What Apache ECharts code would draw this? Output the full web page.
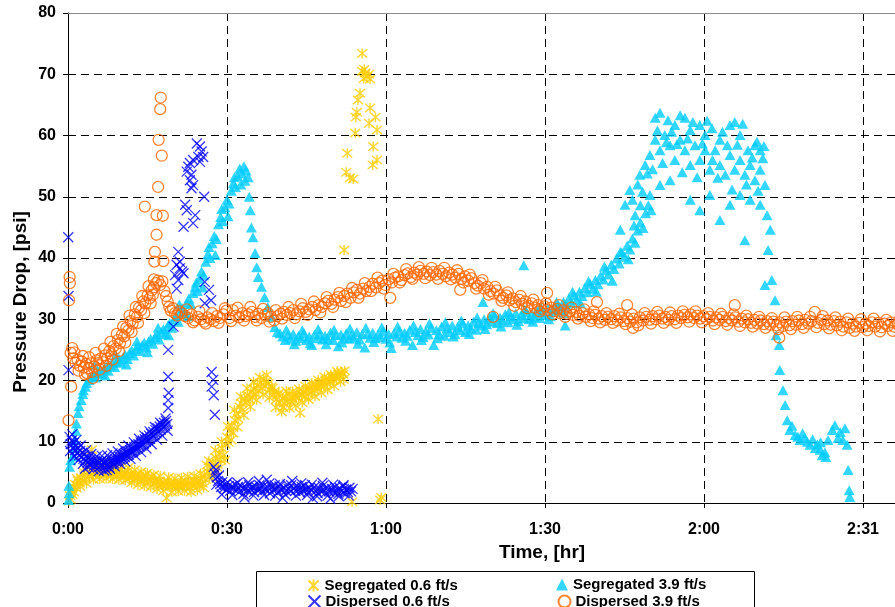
<!DOCTYPE html>
<html><head><meta charset="utf-8">
<script src="https://cdn.jsdelivr.net/npm/echarts@6/dist/echarts.min.js"></script>
<style>html,body{margin:0;padding:0;overflow:hidden;background:#fff;width:895px;height:607px}#c{width:930px;height:607px}</style>
</head><body><div id="c"></div><script>
// time in minutes, pressure drop in psi
const xTickLabels = ['0:00','0:30','1:00','1:30','2:00','2:31'];
const seriesNames = ['Segregated 0.6 ft/s','Segregated 3.9 ft/s','Dispersed 0.6 ft/s','Dispersed 3.9 ft/s'];

const seg06 = [
[0.2,0.3],[0.4,1.2],[0.6,2.0],[0.8,1.4],[1.0,2.6],[1.3,3.1],[1.6,2.4],[1.9,3.6],[2.2,3.2],[2.5,4.1],[2.8,3.6],[3.1,4.5],[3.4,3.9],[3.7,5.0],[4.0,4.3],[4.3,5.4],[4.5,8.7],[4.7,4.6],[5.0,5.6],[5.3,4.8],[5.6,5.3],[5.9,4.4],[6.2,5.8],[6.5,5.0],[6.8,4.6],[7.1,5.5],[7.4,4.9],[7.7,5.9],[8.0,4.5],[8.3,5.2],[8.6,4.8],[8.9,5.6],[9.2,4.4],[9.5,5.1],[9.8,4.7],[10.1,5.4],[10.4,4.3],[10.7,4.9],[11.0,4.5],[11.3,5.2],[11.6,4.1],[11.9,4.7],[12.2,4.3],[12.5,3.8],[12.8,4.6],[13.1,4.0],[13.4,4.4],[13.7,3.6],[14.0,4.2],[14.3,3.8],[14.6,4.5],[14.9,3.4],[15.2,4.0],[15.5,3.6],[15.8,4.3],[16.1,3.2],[16.4,3.8],[16.7,3.4],[17.0,2.9],[17.3,3.6],[17.6,3.1],[17.9,2.7],[18.2,3.4],[18.6,0.8],[18.5,2.9],[18.8,3.5],[19.1,2.6],[19.4,3.2],[19.7,2.8],[20.0,3.4],[20.3,2.5],[20.6,3.1],[20.9,2.7],[21.2,3.3],[21.5,2.6],[21.8,3.0],[22.1,3.6],[22.4,2.8],[22.7,3.2],[23.0,2.5],[23.3,3.4],[23.6,2.9],[23.9,3.7],[24.2,3.1],[24.5,3.5],[24.8,2.8],[25.1,3.9],[25.4,3.2],[25.7,4.6],[26.0,3.8],[26.2,6.2],[26.4,5.1],[26.7,4.3],[27.0,5.8],[27.3,6.6],[27.6,5.2],[27.9,7.4],[28.2,6.3],[28.5,8.1],[28.8,7.0],[29.1,8.9],[29.4,7.8],[29.7,9.6],[30.0,10.8],[30.3,9.9],[30.6,11.8],[30.9,12.6],[31.2,11.4],[31.5,13.5],[31.8,14.6],[32.1,13.8],[32.4,15.7],[32.7,16.3],[33.0,15.2],[33.3,17.0],[33.6,16.4],[33.9,17.6],[34.2,16.9],[34.5,18.1],[34.8,17.2],[35.1,18.6],[35.4,17.8],[35.7,19.2],[36.0,18.3],[36.3,19.6],[36.6,18.8],[36.9,20.2],[37.2,19.1],[37.5,20.9],[37.8,19.5],[38.1,18.4],[38.4,19.0],[38.7,17.6],[39.0,18.3],[39.3,16.9],[39.6,17.7],[39.9,16.4],[40.3,14.9],[40.5,17.1],[40.8,16.3],[41.1,17.4],[41.4,16.6],[41.7,17.8],[42.0,16.5],[42.3,17.2],[42.6,16.8],[42.9,17.5],[43.2,18.0],[43.5,17.1],[43.8,14.7],[44.1,17.6],[44.4,18.2],[44.7,17.4],[45.0,18.5],[45.3,17.8],[45.6,18.8],[45.9,18.1],[46.2,19.0],[46.5,18.4],[46.8,19.3],[47.1,18.7],[47.4,19.5],[47.7,19.0],[48.0,19.8],[48.3,19.2],[48.6,20.1],[48.9,19.5],[49.2,20.3],[49.5,19.8],[49.8,20.6],[50.1,20.0],[50.4,20.8],[50.7,20.3],[51.0,21.1],[51.3,20.6],[51.6,21.4],[51.9,21.0],[52.2,21.6],
[0.5,0.6],[1.1,1.8],[1.7,4.0],[2.3,2.7],[2.9,5.1],[3.5,3.2],[4.1,6.0],[4.8,3.8],[5.4,6.4],[6.0,3.9],[6.6,6.3],[7.2,4.0],[7.8,6.5],[8.4,3.9],[9.0,6.2],[9.6,3.8],[10.2,6.0],[10.8,3.7],[11.4,5.8],[12.0,3.3],[12.6,5.4],[13.2,3.0],[13.8,5.1],[14.4,2.8],[15.0,4.9],[15.6,2.6],[16.2,4.6],[16.8,2.3],[17.4,4.4],[18.0,2.0],[19.0,4.2],[19.6,1.8],[20.2,4.0],[20.8,1.9],[21.4,4.1],[22.0,2.0],[22.6,4.3],[23.2,1.8],[23.8,4.4],[24.4,2.1],[25.0,4.8],[25.6,2.5],[26.6,6.9],[27.2,4.1],[27.8,8.6],[28.4,5.6],[29.0,10.0],[29.6,7.0],[30.2,12.5],[30.8,10.3],[31.4,15.2],[32.0,12.4],[32.6,17.4],[33.2,14.3],[33.8,18.7],[34.4,15.7],[35.0,19.8],[35.6,16.8],[36.2,20.5],[36.8,17.7],[37.4,19.8],[38.0,17.2],[38.6,18.8],[39.2,15.6],[39.8,18.0],[40.6,15.6],[41.2,18.3],[41.8,15.5],[42.4,18.2],[43.0,15.9],[43.6,18.6],[44.2,16.4],[44.8,19.1],[45.4,16.9],[46.0,19.6],[46.6,17.4],[47.2,20.1],[47.8,18.0],[48.4,20.6],[49.0,18.5],[49.6,21.0],[50.2,19.1],[50.8,21.5],[51.4,19.8],[52.0,20.2],
[53.6,0.2],[58.9,0.5],[59.1,0.9],[58.5,13.7],[52.1,41.3],[52.5,54.0],[53.2,53.1],[53.8,52.9],[52.7,57.1],[54.2,60.4],[54.3,63.0],[54.5,63.8],[54.7,65.8],[55.1,66.9],[55.5,73.4],[55.5,70.5],[55.8,69.3],[56.1,70.2],[56.4,69.6],[56.8,70.0],[57.0,69.2],[55.9,70.8],[57.0,64.5],[58.0,63.0],[56.8,62.0],[58.3,60.9],[57.6,58.2],[58.3,56.0],[57.5,55.2]
];

const seg39 = [
[0.1,0.5],[0.2,1.6],[0.15,2.8],[0.3,5.9],[0.5,7.0],[0.9,7.6],[1.2,9.0],[1.3,10.3],[1.5,11.8],[1.6,13.0],[1.9,14.7],[2.1,15.8],[2.5,16.8],[2.8,17.8],[2.9,18.4],[3.3,19.0],[3.5,19.6],[4.0,20.1],[4.4,20.6],[4.8,21.0],[5.2,20.5],[5.6,21.2],[6.0,21.7],[6.4,21.1],[6.8,21.9],[7.2,22.3],[7.6,21.6],[8.0,22.5],[8.4,22.9],[8.8,22.2],[9.2,23.1],[9.6,23.6],[10.0,22.9],[10.4,23.8],[10.8,24.2],[11.2,23.5],[11.6,24.5],[12.0,24.9],[12.4,24.1],[12.8,25.2],[13.2,25.6],[13.6,24.8],[14.0,25.8],[14.4,26.2],[14.8,25.4],[15.2,26.4],[15.6,26.8],[16.0,26.0],[16.4,27.1],[16.8,27.5],[17.2,26.7],[17.6,27.9],[18.0,28.4],[18.4,27.6],[18.8,28.9],[19.2,29.4],[19.6,28.6],[20.0,29.9],[20.4,30.5],[20.8,29.6],[21.2,31.1],[21.6,31.8],[22.0,31.0],[22.4,32.6],[22.8,33.4],[23.2,32.5],[23.6,34.3],[24.0,35.3],[24.4,34.6],[24.8,36.6],[25.2,37.8],[25.6,37.2],[26.0,39.4],[26.4,40.6],[26.8,40.0],[27.2,42.4],[27.6,43.6],[28.0,43.1],[28.4,45.5],[28.8,46.7],[29.2,46.0],[29.6,48.3],[30.0,49.5],[30.4,48.9],[30.8,51.0],[31.2,52.2],[31.6,51.6],[32.0,53.4],[32.4,54.6],[32.8,53.8],[33.2,55.0],[33.6,54.3],[34.0,53.2],[33.4,52.6],[34.2,50.0],[34.4,47.8],[34.6,45.0],[34.9,43.4],[35.3,40.8],[35.6,38.5],[35.9,36.9],[36.5,35.3],[37.1,33.6],[37.7,32.0],[38.4,30.4],[39.0,28.7],[39.5,27.9],[40.0,27.7],
[5.0,22.5],[7.0,20.8],[9.0,24.1],[11.0,22.6],[13.0,26.4],[15.0,24.6],[17.0,28.6],[19.0,27.4],[21.0,32.4],[22.6,30.5],[24.2,36.0],[25.4,35.2],[26.6,41.8],[27.8,40.5],[29.0,48.0],[30.2,46.8],[31.4,53.2],[32.6,52.0],
[40.5,27.2],[41.0,26.6],[41.5,27.4],[42.0,26.8],[42.5,27.6],[43.0,26.5],[43.5,27.3],[44.0,26.9],[44.5,27.7],[45.0,26.6],[45.5,27.2],[46.0,25.8],[46.5,27.5],[47.0,26.9],[47.5,27.6],[48.0,26.7],[48.5,27.3],[49.0,26.8],[49.5,27.8],[50.0,26.6],[50.5,27.4],[51.0,25.6],[51.5,27.5],[52.0,26.9],[52.5,27.7],[53.0,26.8],[53.5,27.4],[54.0,27.0],[54.5,27.9],[55.0,26.7],[55.5,27.5],[56.0,25.4],[56.5,27.6],[57.0,27.0],[57.5,27.8],[58.0,26.9],[58.5,27.5],[59.0,27.1],[59.5,28.0],[60.0,26.8],[60.5,27.6],[61.0,25.3],[61.5,27.7],[62.0,27.2],[62.5,28.1],[63.0,27.0],[63.5,27.8],[64.0,27.3],[64.5,28.3],[65.0,25.8],[65.5,27.9],[66.0,27.4],[66.5,28.4],[67.0,27.1],[67.5,28.0],[68.0,27.5],[68.5,28.6],[69.0,25.8],[69.5,28.2],[70.0,27.6],[70.5,28.8],[71.0,27.3],[71.5,28.5],[72.0,27.9],[72.5,29.0],[73.0,27.6],[73.5,28.7],[74.0,28.2],[74.5,29.3],[75.0,27.9],[75.5,29.0],[76.0,28.5],[76.5,29.6],[77.0,28.3],[77.5,29.4],[78.0,29.0],[78.3,32.8],[78.5,30.0],[79.0,29.2],[79.5,30.3],[80.0,29.6],[80.5,30.6],[81.0,29.4],[81.5,30.3],[82.0,29.8],[82.5,30.8],[83.0,29.5],[83.5,30.5],[84.0,30.0],[84.5,31.0],[85.0,29.7],[85.5,30.7],[86.0,38.8],[86.0,30.2],[86.5,31.2],[87.0,30.0],[87.5,30.9],[88.0,30.4],[88.5,31.4],[89.0,30.2],[89.5,31.2],[90.0,30.7],[90.5,31.8],[91.0,30.5],[91.5,31.6],[92.0,31.2],[92.5,32.3],[93.0,31.5],[93.5,32.8],[93.8,29.0],[94.0,32.2],[94.5,33.4],[95.0,32.6],[95.5,33.9],[96.0,33.2],[96.5,34.5],[97.0,33.8],[97.5,35.1],[98.0,34.4],[98.5,35.8],[99.0,35.0],[99.5,36.4],[100.0,35.7],[100.5,37.1],[101.0,36.5],[101.5,38.0],[102.0,37.3],[102.5,38.9],[103.0,38.2],[103.5,39.9],[104.0,39.1],[104.5,40.9],[105.0,40.2],[105.5,42.0],[106.0,41.4],[106.5,43.2],[107.0,42.5],[107.5,44.5],[108.0,45.8],[108.5,44.9],[109.0,47.3],[109.5,48.6],[110.0,47.8],
[41.2,28.3],[42.7,25.9],[44.2,28.2],[45.7,26.1],[47.2,28.4],[48.7,25.9],[50.2,28.3],[51.7,26.2],[53.2,28.5],[54.7,26.0],[56.2,28.6],[57.7,26.3],[59.2,28.7],[60.7,26.2],[62.2,28.8],[63.7,26.5],[65.2,29.0],[66.7,26.6],[68.2,29.3],[69.7,26.9],[71.2,29.5],[72.7,27.2],[74.2,29.8],[75.7,27.6],[77.2,30.3],[78.7,28.4],[80.2,31.0],[81.7,28.8],[83.2,31.2],[84.7,29.1],[86.2,31.6],[87.7,29.6],[89.2,32.0],[90.7,30.0],[92.2,32.8],[93.7,31.0],[95.2,34.5],[96.7,32.6],[98.2,36.2],[99.7,34.5],[101.2,38.6],[102.7,36.3],[104.2,41.0],[105.7,39.8],
[104.2,44.6],[105.1,48.7],[106.0,51.1],[107.0,47.0],[107.9,53.6],[108.9,55.2],[109.8,50.3],[109.8,56.8],[110.8,59.3],[110.8,62.9],[111.7,63.7],[111.7,57.6],[111.7,51.9],[112.6,60.1],[113.2,62.5],[113.6,58.4],[113.6,52.7],[114.5,61.7],[114.5,56.0],[115.5,63.3],[115.5,59.3],[116.4,62.9],[116.4,57.6],[117.4,60.9],[117.4,55.2],[117.4,49.5],[118.3,58.4],[119.2,61.7],[119.2,56.0],[119.2,47.8],[120.2,60.1],[120.2,57.6],[121.1,54.4],[121.1,50.3],[121.5,61.2],[122.1,57.6],[123.0,59.3],[123.0,55.2],[123.0,46.2],[124.0,53.6],[124.9,61.7],[124.9,56.8],[124.9,48.7],[125.8,62.2],[125.8,54.4],[126.8,60.1],[126.8,56.0],[126.8,50.3],[127.7,53.6],[127.7,42.9],[128.3,57.6],[128.7,55.2],[128.7,49.5],[129.6,58.4],[129.6,52.7],[130.6,57.6],[130.6,54.4],[130.6,48.7],[131.1,56.3],[131.5,51.9],[131.9,47.0],[132.5,44.6],[132.1,41.3],[131.5,35.6],[132.8,36.4],[133.4,33.1],[133.6,27.4],[134.2,25.8],[134.3,21.7],[134.9,18.4],[135.3,16.0],[135.7,13.5],[136.2,11.9],[136.6,12.6],[137.2,11.1],[137.7,10.8],[138.1,10.3],[138.6,11.4],[139.0,10.6],[139.5,10.0],[140.0,9.5],[140.5,10.4],[141.0,9.0],[141.4,9.6],[141.9,8.7],[142.0,9.9],[142.3,7.8],[142.8,8.3],[143.0,7.5],[143.4,10.3],[144.2,11.9],[144.7,12.7],[145.3,10.6],[145.7,11.6],[146.2,10.3],[146.6,12.2],[147.0,9.5],[147.2,5.4],[147.4,2.1],[147.5,1.0],
[106.5,49.5],[107.5,52.0],[108.4,50.8],[109.3,53.8],[110.3,54.5],[111.2,60.8],[112.2,55.5],[112.9,58.9],[113.9,60.6],[114.9,58.6],[115.9,54.0],[116.9,59.5],[117.9,62.2],[118.7,53.2],[119.7,58.7],[120.6,62.4],[121.6,56.0],[122.6,53.1],[123.5,60.6],[124.4,58.4],[125.3,51.2],[126.3,58.5],[127.3,61.9],[128.0,52.0],[129.1,56.4],[130.0,59.0],[130.2,51.0],[131.3,58.3],[106.8,45.3],[108.0,48.6]
];

const disp06 = [
[0.05,43.4],[0.1,33.8],[0.1,21.7],
[0.3,10.8],[0.5,9.6],[0.7,10.2],[0.9,9.0],[1.1,9.8],[1.3,8.6],[1.5,9.3],[1.7,8.2],[1.9,8.9],[2.1,7.8],[2.3,8.5],[2.5,7.5],[2.7,8.2],[2.9,7.2],[3.1,7.9],[3.2,5.6],[3.3,6.9],[3.5,7.6],[3.7,6.6],[3.9,7.3],[4.1,6.4],[4.3,7.1],[4.5,6.3],[4.7,7.0],[4.9,6.1],[5.1,6.9],[5.3,6.2],[5.5,6.8],[5.7,5.8],[5.9,6.6],[6.1,6.0],[6.3,6.9],[6.5,6.2],[6.7,6.7],[6.9,5.9],[7.1,6.6],[7.3,5.4],[7.3,6.1],[7.5,6.8],[7.7,6.3],[7.9,5.6],[8.1,6.9],[8.3,6.4],[8.5,7.1],[8.7,6.5],[8.9,7.2],[9.1,6.7],[9.3,7.4],[9.5,6.9],[9.7,7.6],[9.9,7.1],[10.1,7.8],[10.3,7.3],[10.5,8.0],[10.7,7.5],[10.9,8.2],[11.1,7.7],[11.3,8.4],[11.5,7.9],[11.7,8.6],[11.9,8.2],[12.1,8.9],[12.3,8.4],[12.5,9.1],[12.7,8.7],[12.9,9.4],[13.1,8.9],[13.3,9.6],[13.5,9.2],[13.7,9.9],[13.9,9.4],[14.1,10.2],[14.3,9.7],[14.5,10.4],[14.7,10.0],[14.9,10.7],[15.1,10.2],[15.3,11.0],[15.5,10.5],[15.7,11.3],[15.9,10.8],[16.1,11.6],[16.3,11.1],[16.5,11.9],[16.7,11.4],[16.9,12.2],[17.1,11.7],[17.3,12.5],[17.5,12.0],[17.7,12.8],[17.9,12.3],[18.1,13.1],[18.3,12.6],[18.5,13.4],[18.7,12.9],
[0.4,8.5],[0.8,11.2],[1.2,7.6],[1.6,10.3],[2.0,7.0],[2.4,9.4],[2.8,6.4],[3.4,8.6],[3.8,5.9],[4.4,8.0],[4.8,5.5],[5.4,7.6],[5.8,5.2],[6.4,7.7],[6.8,5.3],[7.4,7.8],[7.8,5.8],[8.4,8.1],[8.8,6.0],[9.4,8.4],[9.8,6.4],[10.4,8.9],[10.8,6.8],[11.4,9.4],[11.8,7.2],[12.4,9.9],[12.8,7.7],[13.4,10.5],[13.8,8.3],[14.4,11.0],[14.8,8.9],[15.4,11.7],[15.8,9.6],[16.4,12.4],[16.8,10.3],[17.4,13.1],[17.8,11.0],[18.4,13.8],[18.8,11.8],
[18.9,15.5],[18.9,16.8],[19.0,18.0],[18.9,20.6],[18.9,25.0],[19.9,28.8],[20.2,37.2],[20.5,35.0],[20.8,36.4],[20.5,38.9],[21.1,38.3],[21.8,37.5],[20.8,41.0],[21.1,39.4],[21.5,37.8],[21.8,45.1],[22.1,48.7],[22.4,47.8],[24.0,47.0],[23.6,45.7],[24.3,58.7],[24.9,58.2],[25.2,57.4],[25.5,56.5],[24.6,56.5],[23.6,56.0],[23.0,55.5],[22.7,54.9],[22.4,54.1],[23.3,53.6],[23.0,52.7],[23.6,51.9],[23.3,51.4],[24.9,55.7],[25.7,50.0],[25.8,36.1],[26.6,34.8],[27.0,33.1],[25.8,32.6],[27.1,21.4],[27.4,20.1],[27.1,19.0],[27.5,17.6],[27.7,14.4],
[27.5,5.9],[27.7,4.8],[27.9,5.4],[28.1,4.2],[28.3,3.6],[28.5,4.5],[28.7,3.1],[28.9,2.6],[29.1,3.4],[29.4,2.4],[29.7,3.0],[30.0,2.2],[30.3,2.8],[30.6,2.0],[30.9,2.7],[31.2,2.3],[31.5,3.0],[31.8,2.1],[32.1,2.6],[32.4,1.9],[32.7,2.8],[33.0,2.3],[33.3,0.9],[33.6,2.5],[33.9,2.0],[34.2,2.9],[34.5,2.2],[34.8,2.6],[35.1,1.8],[35.4,2.7],[35.7,2.1],[36.0,3.6],[36.3,2.4],[36.6,1.9],[36.9,2.8],[37.2,2.2],[37.5,3.8],[37.8,2.5],[38.1,1.6],[38.4,2.6],[38.7,2.1],[39.0,2.9],[39.3,2.3],[39.6,1.8],[39.9,2.7],[40.2,2.2],[40.5,0.8],[40.8,2.5],[41.1,2.0],[41.4,3.0],[41.7,2.3],[42.0,1.9],[42.3,3.6],[42.6,2.4],[42.9,2.0],[43.2,2.8],[43.5,2.2],[43.8,1.7],[44.1,2.6],[44.4,2.0],[44.7,2.9],[45.0,2.3],[45.3,1.8],[45.6,2.5],[45.9,2.1],[46.2,0.8],[46.5,2.6],[46.8,2.0],[47.1,1.6],[47.4,2.4],[47.7,1.9],[48.0,3.3],[48.3,2.2],[48.6,1.7],[48.9,2.5],[49.2,1.9],[49.5,0.7],[49.8,2.3],[50.1,1.8],[50.4,2.6],[50.7,2.0],[51.0,1.5],[51.3,2.4],[51.6,1.9],[51.9,2.7],[52.2,1.6],[52.5,2.2],[52.8,1.8],[53.1,2.5],[53.4,1.9],[53.7,2.3],
[28.0,3.0],[29.0,1.4],[30.1,3.4],[31.0,1.3],[32.0,3.3],[33.1,1.5],[34.0,3.4],[35.0,1.2],[36.1,2.9],[37.0,1.3],[38.0,3.2],[39.1,1.2],[40.0,3.1],[41.0,1.4],[42.1,2.9],[43.0,1.2],[44.0,3.2],[45.1,1.3],[46.0,3.0],[47.0,1.1],[48.1,2.8],[49.0,1.2],[50.0,3.0],[51.1,1.1],[52.0,2.9],[53.0,1.2]
];

const disp39 = [
[0.1,13.5],[0.2,33.1],[0.3,36.9],[0.35,35.9],[0.6,19.0],[0.8,25.3],[0.5,24.5],[1.0,23.6],[1.4,22.9],[1.8,23.4],[2.2,22.4],[2.6,23.1],[3.0,22.1],[3.4,22.7],[3.6,21.2],[3.9,22.0],[4.3,22.8],[4.7,20.4],[5.0,22.3],[5.4,23.3],[5.8,22.5],[6.2,23.6],[6.6,23.0],[7.0,24.1],[7.4,23.6],[7.8,24.8],[8.2,24.3],[8.6,25.6],[9.0,25.2],[9.4,26.6],[9.8,26.1],[10.2,27.5],[10.6,27.2],[11.0,28.6],[11.4,28.2],[11.8,29.7],[12.2,29.3],[12.6,30.8],[13.0,30.4],[13.4,31.9],[13.8,31.5],[14.2,32.9],[14.5,48.4],[14.6,32.6],[15.0,33.9],[15.4,33.4],[15.8,34.7],[16.2,36.5],[16.3,39.4],[16.4,41.0],[16.7,43.8],[16.7,47.0],[16.2,35.2],[16.6,35.9],[17.0,51.6],[17.1,59.3],[17.4,64.3],[17.5,66.2],[17.7,56.7],[17.9,46.9],[18.0,39.5],[17.0,36.3],[17.4,35.6],[17.8,36.2],[18.2,34.6],[18.5,33.8],[18.8,32.9],[19.1,32.0],[19.4,31.4],[19.8,31.8],[20.2,31.0],[20.6,30.6],[21.0,31.3],
[1.2,24.6],[2.0,21.6],[2.8,24.0],[3.2,21.0],[4.0,23.8],[4.5,21.4],[5.2,24.5],[6.0,21.8],[6.8,25.2],[7.2,22.4],[8.0,26.3],[8.4,23.4],[9.2,27.6],[9.6,24.8],[10.4,28.8],[10.8,26.2],[11.6,30.6],[12.0,27.9],[12.8,32.0],[13.2,29.4],[14.0,33.8],[14.4,31.0],[15.2,35.4],[15.6,32.6],[16.0,34.0],
[21.5,31.0],[22.1,30.5],[22.7,30.2],[23.3,30.8],[23.9,29.8],[24.5,30.4],[25.1,30.0],[25.7,29.6],[26.3,30.3],[26.9,30.0],[27.5,29.7],[28.1,30.5],[28.7,30.2],[29.3,30.8],[29.9,31.4],[30.5,30.2],[31.1,31.5],[31.7,30.6],[32.3,30.3],[32.9,31.0],[33.5,30.5],[34.1,30.8],[34.7,31.2],[35.3,30.4],[35.9,30.9],[36.5,30.2],[37.1,30.7],[37.7,31.0],[38.3,30.4],[38.9,29.8],[39.5,30.5],[40.1,30.9],[40.7,31.2],[41.3,30.7],[41.9,31.0],[42.5,31.5],[43.1,30.8],[43.7,31.3],[44.3,31.8],[44.9,31.2],[45.5,31.6],[46.1,32.0],[46.7,31.5],[47.3,32.3],[47.9,32.0],[48.5,32.6],[49.1,33.0],[49.7,32.5],[50.3,33.2],[50.9,33.6],[51.5,33.0],[52.1,33.8],[52.7,34.2],[53.3,33.5],[53.9,34.4],[54.5,34.8],[55.1,34.2],[55.7,35.0],[56.3,34.6],[56.9,35.3],[57.5,35.8],[58.1,35.2],[58.7,35.9],[59.3,36.3],[59.9,35.6],[60.5,36.5],[60.8,33.5],[61.1,36.0],[61.7,36.8],[62.3,37.0],[62.9,36.4],[63.5,37.2],[64.1,37.5],[64.7,36.9],[65.3,37.6],[65.9,37.3],[66.5,37.9],[67.1,37.4],[67.7,37.8],[68.3,37.2],[68.9,37.7],[69.5,37.3],[70.1,37.9],[70.7,37.4],[71.3,37.0],[71.9,37.6],[72.5,37.3],[73.1,36.8],[73.7,37.4],[74.0,34.8],[74.3,36.6],[74.9,37.0],[75.5,36.3],[76.1,36.7],[76.7,35.9],[77.3,35.5],[77.9,35.9],[78.5,35.0],[79.1,35.3],[79.7,34.6],[80.2,30.4],[80.3,34.2],[80.9,34.7],[81.5,33.9],[82.1,33.5],[82.7,33.9],[83.3,33.1],[83.9,33.4],[84.5,32.8],[85.1,33.2],[85.7,32.5],[86.3,32.9],[86.9,32.2],[87.5,32.6],[88.1,31.9],[88.7,32.3],[89.3,31.7],[89.9,32.1],[90.4,34.3],[90.5,31.5],[91.1,31.9],[91.7,31.3],[92.3,31.7],[92.9,31.0],[93.5,31.5],[94.1,30.9],[94.7,31.3],[95.3,30.7],[95.9,31.2],[96.5,30.6],[97.1,31.0],
[97.7,30.4],[98.3,30.8],[98.9,30.2],[99.5,30.7],[99.8,32.8],[100.1,30.1],[100.7,30.5],[101.3,29.9],[101.9,30.4],[102.5,30.0],[103.1,30.5],[103.7,29.8],[104.3,30.3],[104.9,29.7],[105.5,32.3],[105.5,30.2],[106.1,29.6],[106.6,28.6],[106.7,30.1],[107.3,29.5],[107.9,30.3],[108.5,29.8],[109.1,30.4],[109.7,29.9],[110.3,30.5],[110.9,30.0],[111.5,30.6],[112.1,30.1],[112.7,30.4],[113.3,29.9],[113.9,30.5],[114.5,30.0],[115.1,30.6],[115.7,30.2],[116.3,30.7],[116.9,30.3],[117.5,30.8],[118.1,30.2],[118.7,30.6],[119.3,30.1],[119.9,30.5],[120.5,30.0],[121.1,30.4],[121.7,29.8],[122.3,30.3],[122.9,29.9],[123.5,30.4],[124.1,29.7],[124.7,30.2],[125.3,29.8],[125.8,32.3],[125.9,30.3],[126.5,29.6],[127.1,30.1],[127.7,29.5],[128.3,30.0],[128.9,29.4],[129.5,29.9],[130.1,29.3],[130.7,29.8],[131.3,29.2],[131.9,29.7],[132.5,29.1],[133.1,29.6],[133.7,29.0],[134.2,27.0],[134.3,29.5],[134.9,28.9],[135.5,29.6],[136.1,29.0],[136.7,29.7],[137.3,29.1],[137.9,29.8],[138.5,29.2],[139.1,29.9],[139.7,29.3],[140.3,29.7],[140.9,31.2],[141.5,29.4],[142.1,29.9],[142.7,29.2],[143.3,29.8],[143.9,29.1],[144.5,29.7],[145.1,29.0],[145.7,29.6],[146.3,28.8],[146.9,29.5],[147.5,28.6],[148.1,29.3],[148.7,28.8],[149.3,29.4],[149.9,28.7],[150.5,29.3],[151.1,28.9],[151.7,29.5],[152.3,28.8],[152.9,29.4],[153.5,28.7],[154.1,29.3],[154.7,28.9],[155.3,29.5],[155.9,28.8],[156.5,29.2],[157.1,28.6],
[22.4,31.6],[23.6,29.5],[24.8,31.3],[26.0,29.3],[27.2,31.0],[28.4,29.4],[29.6,31.8],[30.8,29.7],[32.0,31.9],[33.2,29.8],[34.4,32.0],[35.6,29.8],[36.8,31.7],[38.0,29.6],[39.2,31.5],[40.4,30.1],[41.6,32.0],[42.8,30.2],[44.0,32.5],[45.2,30.7],[46.4,32.9],[47.6,31.1],[48.8,33.6],[50.0,32.0],[51.2,34.3],[52.4,32.8],[53.6,35.1],[54.8,33.5],[56.0,35.9],[57.2,34.6],[58.4,36.8],[59.6,35.0],[61.4,37.4],[62.6,36.0],[63.8,38.2],[65.0,36.6],[66.2,38.5],[67.4,36.7],[68.6,38.4],[69.8,36.6],[71.0,38.4],[72.2,36.5],[73.4,38.0],[74.6,36.0],[75.8,37.3],[77.0,35.0],[78.2,36.4],[79.4,34.0],[80.6,35.3],[81.8,33.0],[83.0,34.4],[84.2,32.2],[85.4,33.8],[86.6,31.8],[87.8,33.2],[89.0,31.3],[90.2,32.6],[91.4,30.8],[92.6,32.3],[93.8,30.4],[95.0,31.9],[96.2,30.1],[97.4,31.6],[98.6,29.7],[99.2,31.3],[100.4,29.5],[101.6,31.0],[102.8,29.4],[104.0,30.9],[105.2,29.2],[106.4,30.8],[107.6,29.0],[108.8,31.0],[110.0,29.3],[111.2,31.2],[112.4,29.4],[113.6,31.1],[114.8,29.4],[116.0,31.3],[117.2,29.6],[118.4,31.3],[119.6,29.5],[120.8,31.0],[122.0,29.2],[123.2,30.9],[124.4,29.1],[125.6,30.8],[126.8,28.9],[128.0,30.6],[129.2,28.8],[130.4,30.4],[131.6,28.6],[132.8,30.2],[134.0,28.4],[135.2,30.3],[136.4,28.4],[137.6,30.4],[138.8,28.6],[140.0,30.4],[141.2,28.7],[142.4,30.5],[143.6,28.5],[144.8,30.3],[146.0,28.2],[147.2,30.1],[148.4,28.1],[149.6,30.0],[150.8,28.2],[152.0,30.1],[153.2,28.0],[154.4,29.9],[155.6,28.1],[156.8,29.8]
];

const FONT = '"Liberation Sans", Arial, sans-serif';
const chart = echarts.init(document.getElementById('c'), null, {renderer:'canvas'});
const dash = {color:'#000', type:[8,5], width:1};
const legendBase = {orient:'horizontal', padding:0, itemWidth:12, itemHeight:12, itemGap:5,
  textStyle:{fontFamily:FONT, fontWeight:'bold', fontSize:15, color:'#000'}, selectedMode:false};

chart.setOption({
  animation:false,
  backgroundColor:'#fff',
  grid:{left:68, top:13, right:14, bottom:104},
  xAxis:[{
    type:'value', min:0, max:160, interval:30,
    axisLine:{lineStyle:{color:'#000', width:1}},
    axisTick:{show:true, length:5, lineStyle:{color:'#000'}},
    axisLabel:{margin:19, fontFamily:FONT, fontWeight:'bold', fontSize:16, color:'#000',
      formatter:function(v){ return (v % 30 === 0 && v/30 < xTickLabels.length) ? xTickLabels[v/30] : ''; }},
    splitLine:{show:true, lineStyle:dash}
  },{
    type:'value', position:'top', min:0, max:160,
    axisLine:{show:true, lineStyle:{color:'#8c8c8c', width:1}},
    axisTick:{show:false}, axisLabel:{show:false}, splitLine:{show:false}
  }],
  yAxis:{
    type:'value', min:0, max:80, interval:10,
    axisLine:{show:true, lineStyle:{color:'#000', width:1}},
    axisTick:{show:true, length:5, lineStyle:{color:'#000'}},
    axisLabel:{margin:12, fontFamily:FONT, fontWeight:'bold', fontSize:16, color:'#000'},
    splitLine:{show:true, lineStyle:dash}
  },
  legend:[
    Object.assign({data:[seriesNames[0]], left:306, top:577}, legendBase),
    Object.assign({data:[seriesNames[1]], left:556, top:577}, legendBase),
    Object.assign({data:[seriesNames[2]], left:306, top:593}, legendBase),
    Object.assign({data:[seriesNames[3]], left:556, top:593}, legendBase)
  ],
  graphic:[
    {type:'rect', shape:{x:256.5, y:571.5, width:498, height:60}, style:{fill:'none', stroke:'#000', lineWidth:1}, z:-1},
    {type:'text', x:542, y:553, style:{text:'Time, [hr]', fontFamily:FONT, fontWeight:'bold', fontSize:19, fill:'#000', align:'center', verticalAlign:'middle'}},
    {type:'text', x:21, y:302, rotation:Math.PI/2, style:{text:'Pressure Drop, [psi]', fontFamily:FONT, fontWeight:'bold', fontSize:19, fill:'#000', align:'center', verticalAlign:'middle'}}
  ],
  series:[
    {name:seriesNames[0], type:'scatter', data:seg06, symbol:'path://M0,0L10,10M10,0L0,10M5,-1L5,11', symbolSize:10,
      itemStyle:{color:'none', borderColor:'#FFCC00', borderWidth:1.4}},
    {name:seriesNames[1], type:'scatter', data:seg39, symbol:'triangle', symbolSize:[11,10],
      itemStyle:{color:'#00CCFF', borderWidth:0}},
    {name:seriesNames[2], type:'scatter', data:disp06, symbol:'path://M0,0L10,10M10,0L0,10', symbolSize:10,
      itemStyle:{color:'none', borderColor:'#0000FF', borderWidth:1.3}},
    {name:seriesNames[3], type:'scatter', data:disp39, symbol:'circle', symbolSize:11,
      itemStyle:{color:'none', borderColor:'#FF6600', borderWidth:1.3}}
  ]
});
</script></body></html>
